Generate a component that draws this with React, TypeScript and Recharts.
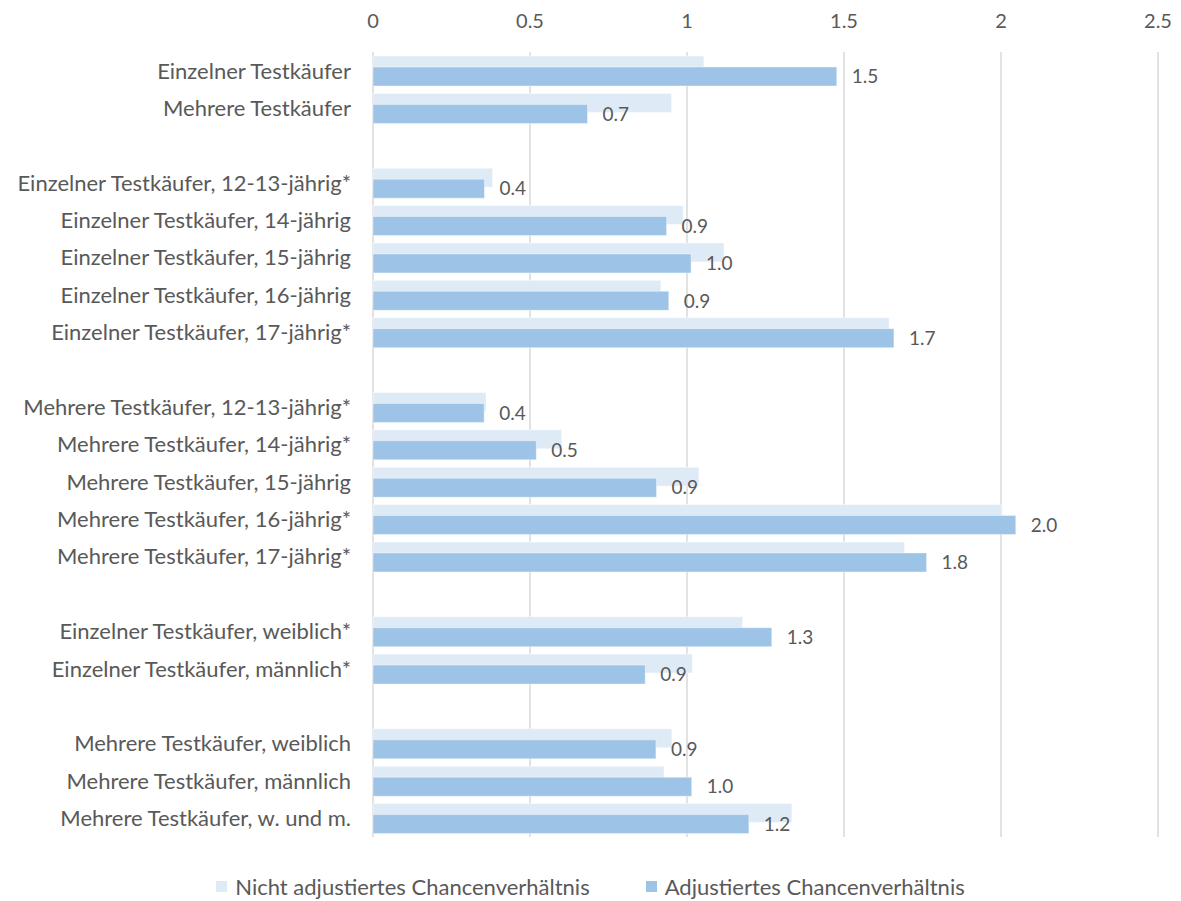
import React from 'react';
import { BarChart, Bar, XAxis, YAxis, CartesianGrid, LabelList, Legend } from 'recharts';

// Row labels; empty strings are spacer rows between the groups
const categories: string[] = [
  'Einzelner Testkäufer',
  'Mehrere Testkäufer',
  '',
  'Einzelner Testkäufer, 12-13-jährig*',
  'Einzelner Testkäufer, 14-jährig',
  'Einzelner Testkäufer, 15-jährig',
  'Einzelner Testkäufer, 16-jährig',
  'Einzelner Testkäufer, 17-jährig*',
  '',
  'Mehrere Testkäufer, 12-13-jährig*',
  'Mehrere Testkäufer, 14-jährig*',
  'Mehrere Testkäufer, 15-jährig',
  'Mehrere Testkäufer, 16-jährig*',
  'Mehrere Testkäufer, 17-jährig*',
  '',
  'Einzelner Testkäufer, weiblich*',
  'Einzelner Testkäufer, männlich*',
  '',
  'Mehrere Testkäufer, weiblich',
  'Mehrere Testkäufer, männlich',
  'Mehrere Testkäufer, w. und m.',
];

const unadjusted: (number | null)[] = [
  1.054, 0.951, null,
  0.381, 0.988, 1.118, 0.917, 1.644, null,
  0.36, 0.601, 1.038, 2.004, 1.693, null,
  1.177, 1.017, null,
  0.952, 0.927, 1.334,
];

const adjusted: (number | null)[] = [
  1.477, 0.683, null,
  0.355, 0.935, 1.013, 0.942, 1.659, null,
  0.354, 0.52, 0.903, 2.047, 1.763, null,
  1.27, 0.867, null,
  0.901, 1.015, 1.197,
];

const xTicks: number[] = [0, 0.5, 1, 1.5, 2, 2.5];

const seriesNames = {
  unadjusted: 'Nicht adjustiertes Chancenverhältnis',
  adjusted: 'Adjustiertes Chancenverhältnis',
};

const LIGHT = '#DEEBF7';
const DARK = '#9DC3E6';
const TEXT = '#595959';
const FONT = 'Lato, "Open Sans", sans-serif';

const rows = categories.map((label, i) => ({
  id: i,
  label,
  unadjusted: unadjusted[i],
  adjusted: adjusted[i],
}));

const formatValue = (v: unknown) =>
  typeof v === 'number' ? v.toFixed(1) : '';

const LegendContent = () => {
  const items = [
    { name: seriesNames.unadjusted, color: LIGHT },
    { name: seriesNames.adjusted, color: DARK },
  ];
  return (
    <div
      style={{
        display: 'flex',
        justifyContent: 'center',
        gap: 56,
        fontFamily: FONT,
        fontSize: 22,
        color: TEXT,
      }}
    >
      {items.map((it) => (
        <div key={it.name} style={{ display: 'flex', alignItems: 'center' }}>
          <span
            style={{
              display: 'inline-block',
              width: 11,
              height: 11,
              background: it.color,
              marginRight: 8,
            }}
          />
          <span>{it.name}</span>
        </div>
      ))}
    </div>
  );
};

export default function App() {
  return (
    <div style={{ position: 'absolute', left: 0, top: 0, background: '#fff' }}>
      <BarChart
        width={1181}
        height={901}
        data={rows}
        layout="vertical"
        margin={{ top: 0, right: 23, bottom: 64, left: 0 }}
        barSize={19}
        barGap={-8}
        barCategoryGap={0}
      >
        <CartesianGrid horizontal={false} stroke="#D9D9D9" strokeWidth={1.5} />
        <XAxis
          type="number"
          orientation="top"
          domain={[0, 2.5]}
          ticks={xTicks}
          height={52}
          axisLine={false}
          tickLine={false}
          tickSize={0}
          tickMargin={24}
          tick={{ fill: TEXT, fontSize: 20, fontFamily: FONT }}
        />
        <YAxis
          type="category"
          dataKey="id"
          width={373}
          axisLine={false}
          tickLine={false}
          tickSize={0}
          tickMargin={22}
          interval={0}
          tickFormatter={(id: number) => categories[id] ?? ''}
          tick={{ fill: TEXT, fontSize: 22, fontFamily: FONT }}
        />
        <Bar
          dataKey="unadjusted"
          name={seriesNames.unadjusted}
          fill={LIGHT}
          stroke="#ffffff"
          strokeOpacity={0.5}
          isAnimationActive={false}
        />
        <Bar
          dataKey="adjusted"
          name={seriesNames.adjusted}
          fill={DARK}
          stroke="#ffffff"
          strokeOpacity={0.4}
          isAnimationActive={false}
        >
          <LabelList
            dataKey="adjusted"
            position="right"
            offset={15}
            formatter={formatValue}
            fill={TEXT}
            fontSize={19}
            fontFamily={FONT}
          />
        </Bar>
        <Legend
          layout="horizontal"
          verticalAlign="middle"
          align="center"
          content={<LegendContent />}
          wrapperStyle={{ top: 873, left: 0, width: 1181 }}
        />
      </BarChart>
    </div>
  );
}
